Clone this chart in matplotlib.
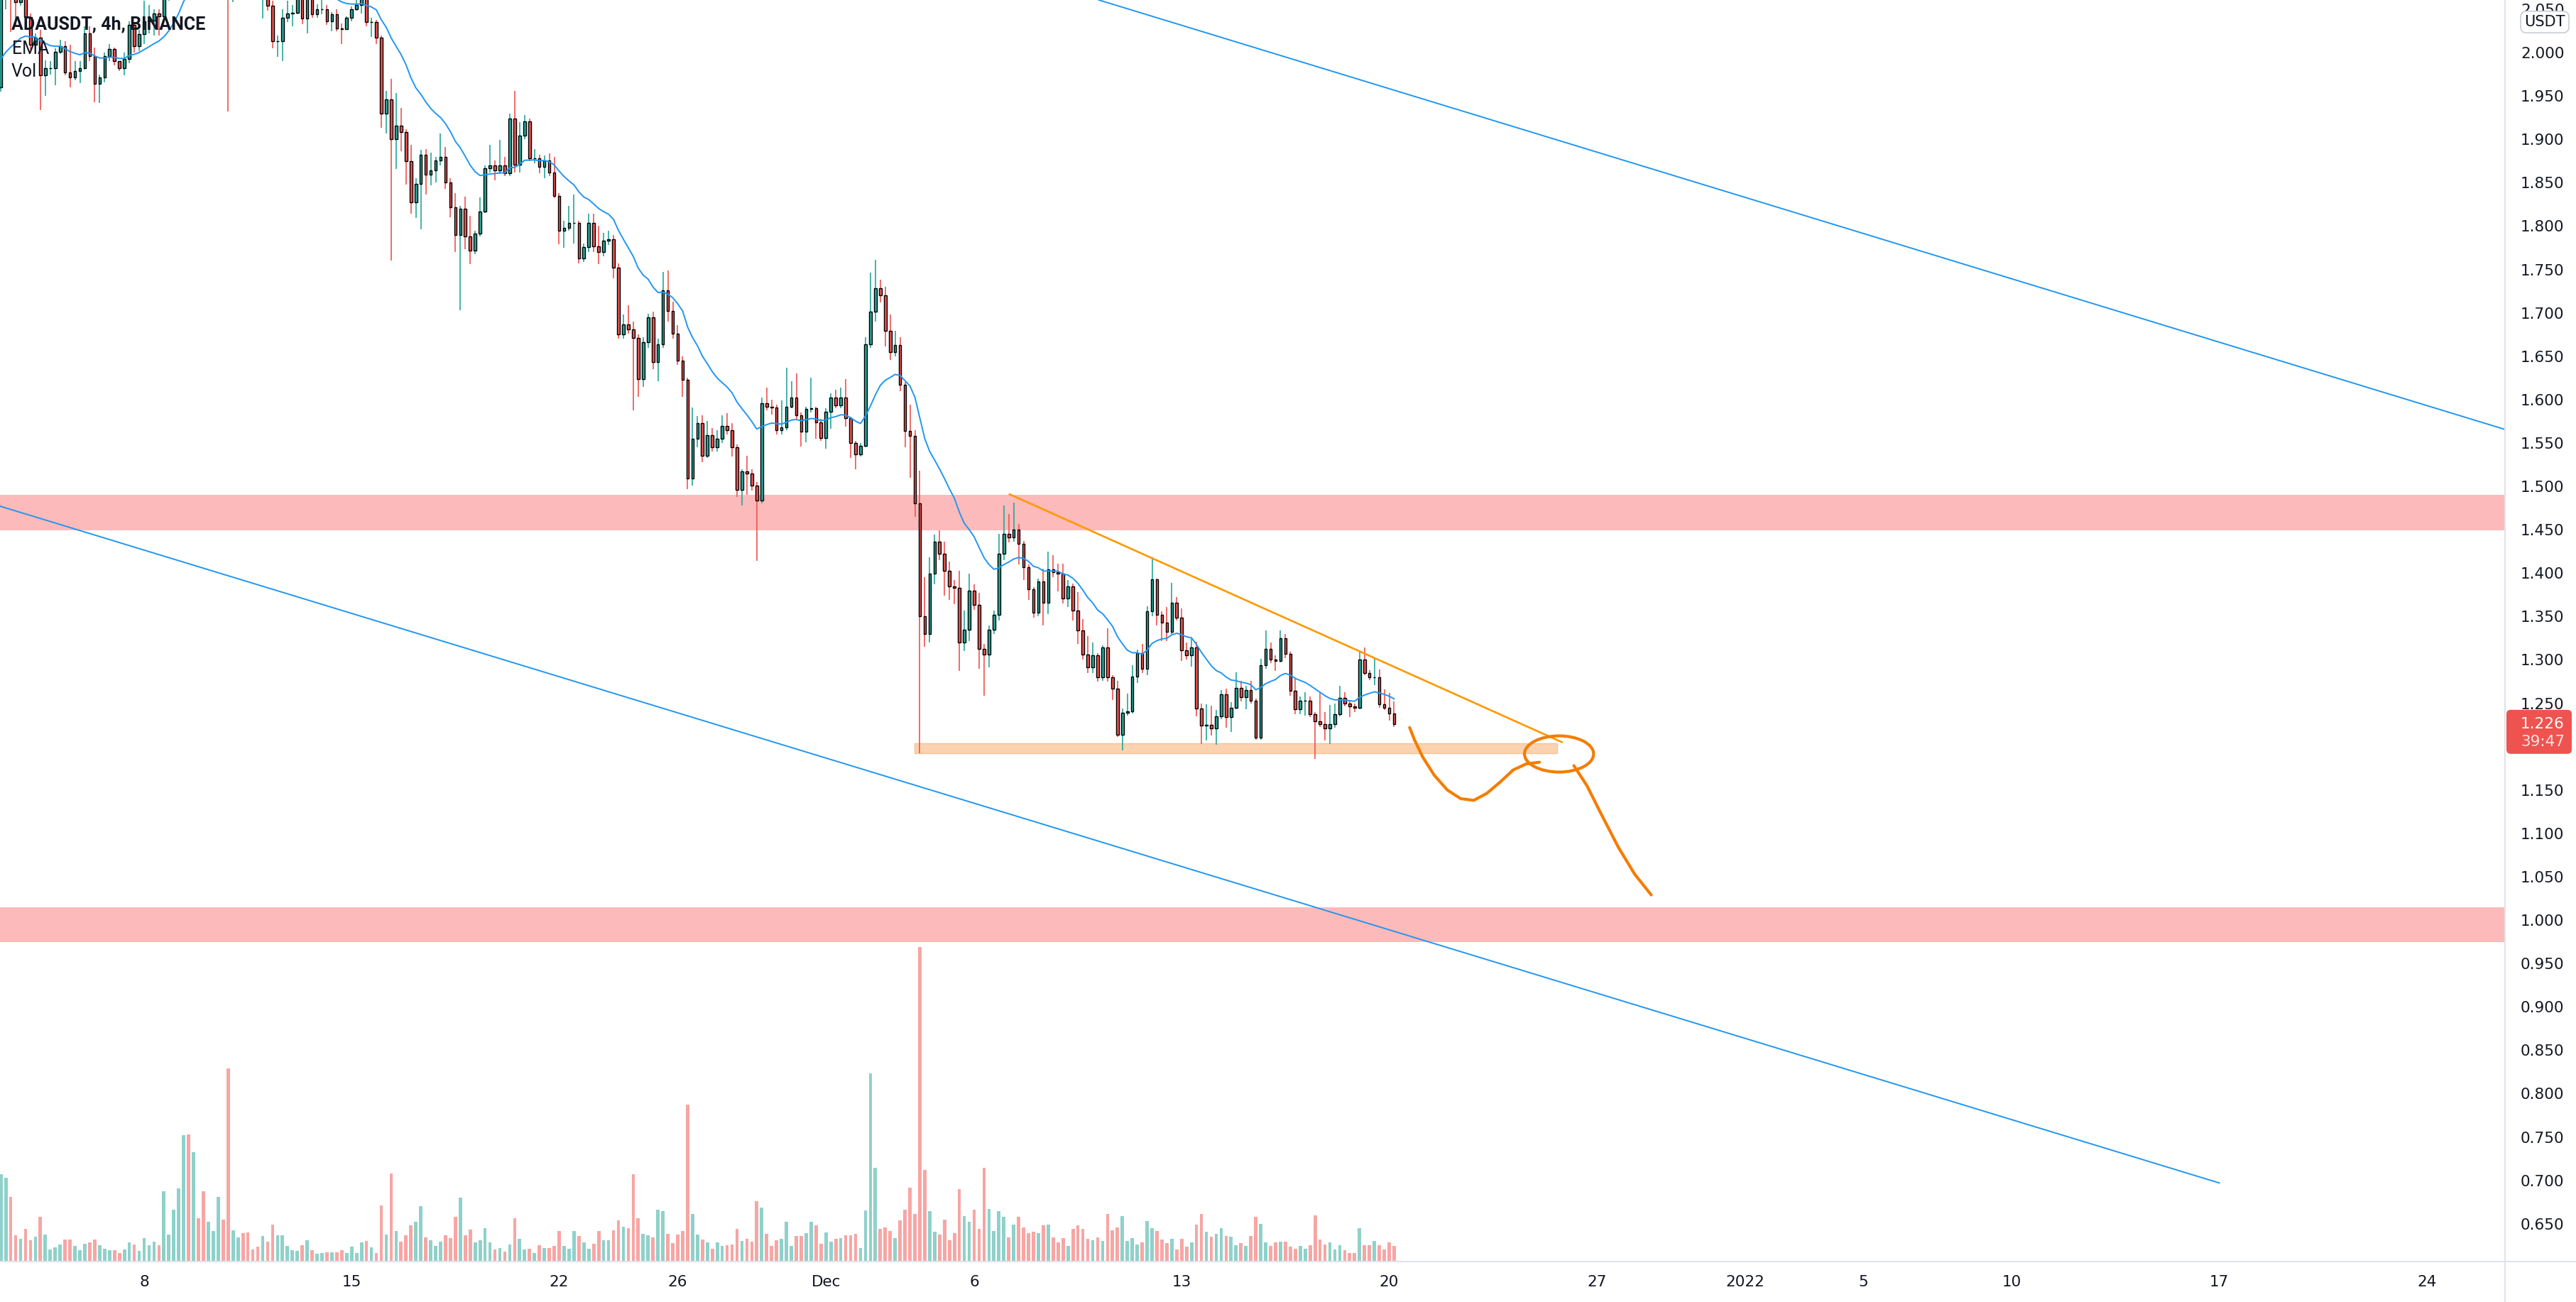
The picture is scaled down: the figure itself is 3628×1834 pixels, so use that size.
import numpy as np
import pandas as pd
import matplotlib
matplotlib.use("Agg")
import matplotlib.pyplot as plt
from matplotlib.lines import Line2D
from matplotlib.patches import FancyBboxPatch, Ellipse
from matplotlib.transforms import IdentityTransform

# ADAUSDT 4h candles, first one opens 2021-11-03 04:00, last one 2021-12-20 04:00
start = "2021-11-03 04:00"
first_open = 1.960
closes = [
    2.065, 2.075, 2.062, 2.058, 2.068, 2.041, 2.009, 2.017, 1.974, 1.982,
    1.982, 2.001, 2.007, 1.977, 1.971, 1.979, 1.982, 2.022, 1.996, 1.964,
    1.971, 1.996, 2.004, 1.990, 1.982, 1.993, 2.032, 2.007, 2.021, 2.036,
    2.037, 2.045, 2.042, 2.065, 2.090, 2.120, 2.150, 2.190, 2.160, 2.210,
    2.190, 2.170, 2.190, 2.200, 2.220, 2.200, 2.120, 2.150, 2.170, 2.150,
    2.130, 2.120, 2.090, 2.100, 2.054, 2.013, 2.013, 2.040, 2.045, 2.046,
    2.063, 2.039, 2.062, 2.044, 2.050, 2.050, 2.036, 2.044, 2.028, 2.027,
    2.040, 2.050, 2.055, 2.063, 2.035, 2.035, 2.017, 1.930, 1.946, 1.900,
    1.916, 1.908, 1.875, 1.827, 1.849, 1.882, 1.859, 1.864, 1.876, 1.880,
    1.850, 1.822, 1.790, 1.820, 1.788, 1.772, 1.791, 1.817, 1.867, 1.870,
    1.864, 1.870, 1.861, 1.924, 1.871, 1.904, 1.921, 1.878, 1.878, 1.868,
    1.876, 1.862, 1.835, 1.795, 1.798, 1.804, 1.804, 1.763, 1.776, 1.804,
    1.777, 1.770, 1.783, 1.785, 1.752, 1.675, 1.687, 1.681, 1.671, 1.624,
    1.666, 1.695, 1.643, 1.664, 1.726, 1.702, 1.676, 1.645, 1.623, 1.509,
    1.555, 1.573, 1.535, 1.559, 1.545, 1.555, 1.570, 1.565, 1.545, 1.496,
    1.517, 1.515, 1.501, 1.484, 1.596, 1.592, 1.591, 1.565, 1.568, 1.592,
    1.602, 1.582, 1.563, 1.589, 1.590, 1.574, 1.556, 1.586, 1.602, 1.593,
    1.602, 1.579, 1.550, 1.537, 1.547, 1.664, 1.701, 1.728, 1.720, 1.679,
    1.655, 1.663, 1.617, 1.564, 1.558, 1.480, 1.350, 1.330, 1.399, 1.436,
    1.422, 1.403, 1.385, 1.383, 1.320, 1.335, 1.380, 1.363, 1.313, 1.306,
    1.335, 1.352, 1.422, 1.445, 1.441, 1.450, 1.434, 1.407, 1.381, 1.354,
    1.390, 1.366, 1.404, 1.401, 1.399, 1.371, 1.385, 1.357, 1.334, 1.306,
    1.291, 1.305, 1.280, 1.314, 1.280, 1.267, 1.214, 1.239, 1.241, 1.281,
    1.308, 1.290, 1.356, 1.393, 1.352, 1.343, 1.332, 1.366, 1.349, 1.311,
    1.305, 1.314, 1.244, 1.224, 1.225, 1.221, 1.235, 1.260, 1.234, 1.245,
    1.268, 1.257, 1.265, 1.253, 1.210, 1.294, 1.313, 1.300, 1.299, 1.325,
    1.307, 1.264, 1.243, 1.253, 1.253, 1.237, 1.229, 1.226, 1.221, 1.226,
    1.237, 1.256, 1.250, 1.246, 1.245, 1.300, 1.285, 1.280, 1.280, 1.249,
    1.245, 1.238, 1.226,
]
highs = [
    2.070, 2.090, 2.085, 2.070, 2.080, 2.072, 2.045, 2.022, 2.026, 1.991,
    1.990, 2.005, 2.015, 2.013, 2.009, 1.990, 1.990, 2.030, 2.030, 2.006,
    1.975, 2.000, 2.010, 2.006, 1.990, 2.000, 2.036, 2.035, 2.026, 2.060,
    2.055, 2.050, 2.050, 2.075, 2.100, 2.130, 2.160, 2.210, 2.200, 2.230,
    2.220, 2.200, 2.200, 2.210, 2.240, 2.230, 2.210, 2.160, 2.180, 2.180,
    2.160, 2.140, 2.130, 2.120, 2.110, 2.060, 2.020, 2.050, 2.060, 2.055,
    2.068, 2.066, 2.068, 2.066, 2.056, 2.062, 2.055, 2.047, 2.050, 2.034,
    2.042, 2.053, 2.062, 2.070, 2.066, 2.040, 2.038, 2.020, 1.956, 1.970,
    1.953, 1.936, 1.912, 1.894, 1.855, 1.888, 1.889, 1.885, 1.880, 1.907,
    1.891, 1.855, 1.838, 1.823, 1.834, 1.812, 1.795, 1.833, 1.870, 1.894,
    1.876, 1.899, 1.880, 1.930, 1.956, 1.920, 1.928, 1.924, 1.889, 1.882,
    1.881, 1.884, 1.880, 1.838, 1.806, 1.823, 1.836, 1.806, 1.780, 1.814,
    1.814, 1.800, 1.792, 1.795, 1.790, 1.757, 1.698, 1.709, 1.690, 1.675,
    1.672, 1.699, 1.701, 1.670, 1.747, 1.749, 1.713, 1.686, 1.650, 1.625,
    1.591, 1.581, 1.582, 1.575, 1.567, 1.565, 1.582, 1.584, 1.573, 1.548,
    1.520, 1.535, 1.520, 1.505, 1.602, 1.614, 1.600, 1.594, 1.599, 1.637,
    1.621, 1.630, 1.585, 1.592, 1.625, 1.592, 1.578, 1.590, 1.607, 1.611,
    1.614, 1.624, 1.580, 1.552, 1.550, 1.672, 1.746, 1.761, 1.738, 1.730,
    1.698, 1.679, 1.672, 1.620, 1.594, 1.565, 1.518, 1.395, 1.418, 1.444,
    1.449, 1.436, 1.413, 1.392, 1.403, 1.357, 1.399, 1.387, 1.377, 1.318,
    1.340, 1.357, 1.445, 1.478, 1.468, 1.481, 1.457, 1.437, 1.410, 1.384,
    1.394, 1.405, 1.425, 1.421, 1.411, 1.411, 1.392, 1.388, 1.378, 1.347,
    1.327, 1.320, 1.308, 1.317, 1.336, 1.282, 1.276, 1.244, 1.261, 1.294,
    1.312, 1.318, 1.362, 1.418, 1.394, 1.356, 1.361, 1.389, 1.372, 1.359,
    1.320, 1.325, 1.321, 1.250, 1.249, 1.247, 1.242, 1.265, 1.267, 1.251,
    1.286, 1.276, 1.270, 1.276, 1.255, 1.301, 1.334, 1.320, 1.305, 1.334,
    1.330, 1.309, 1.278, 1.258, 1.263, 1.258, 1.240, 1.262, 1.240, 1.248,
    1.250, 1.270, 1.263, 1.252, 1.250, 1.309, 1.314, 1.288, 1.303, 1.289,
    1.266, 1.262, 1.252,
]
lows = [
    1.955, 2.050, 2.024, 2.031, 2.054, 2.035, 2.003, 2.000, 1.934, 1.950,
    1.975, 1.962, 1.998, 1.974, 1.960, 1.968, 1.965, 1.980, 1.990, 1.943,
    1.942, 1.966, 1.990, 1.985, 1.979, 1.974, 1.988, 2.000, 2.002, 2.010,
    2.022, 2.020, 2.020, 2.040, 2.060, 2.085, 2.110, 2.140, 2.150, 2.150,
    2.180, 2.150, 2.160, 2.180, 2.190, 2.190, 1.932, 2.058, 2.140, 2.140,
    2.120, 2.100, 2.080, 2.039, 2.048, 2.005, 1.995, 1.990, 2.035, 2.030,
    2.044, 2.033, 2.022, 2.040, 2.040, 2.044, 2.032, 2.025, 2.025, 2.010,
    2.026, 2.036, 2.048, 2.045, 2.030, 2.018, 2.010, 1.913, 1.907, 1.760,
    1.866, 1.886, 1.848, 1.814, 1.809, 1.796, 1.836, 1.847, 1.850, 1.870,
    1.843, 1.810, 1.770, 1.703, 1.773, 1.756, 1.768, 1.788, 1.815, 1.862,
    1.853, 1.860, 1.858, 1.858, 1.862, 1.862, 1.900, 1.875, 1.872, 1.861,
    1.855, 1.858, 1.832, 1.779, 1.775, 1.795, 1.780, 1.757, 1.759, 1.770,
    1.770, 1.756, 1.765, 1.778, 1.740, 1.670, 1.670, 1.676, 1.588, 1.603,
    1.615, 1.660, 1.635, 1.621, 1.660, 1.690, 1.670, 1.640, 1.603, 1.497,
    1.501, 1.545, 1.528, 1.533, 1.540, 1.540, 1.550, 1.560, 1.534, 1.488,
    1.478, 1.490, 1.495, 1.414, 1.480, 1.588, 1.583, 1.560, 1.560, 1.565,
    1.590, 1.578, 1.546, 1.551, 1.585, 1.555, 1.552, 1.543, 1.566, 1.590,
    1.590, 1.569, 1.533, 1.520, 1.534, 1.545, 1.660, 1.690, 1.712, 1.661,
    1.646, 1.650, 1.610, 1.545, 1.510, 1.465, 1.192, 1.315, 1.320, 1.387,
    1.415, 1.374, 1.369, 1.364, 1.287, 1.310, 1.322, 1.358, 1.290, 1.259,
    1.291, 1.330, 1.345, 1.415, 1.435, 1.436, 1.410, 1.392, 1.369, 1.349,
    1.350, 1.340, 1.353, 1.395, 1.379, 1.365, 1.361, 1.345, 1.318, 1.300,
    1.285, 1.285, 1.275, 1.276, 1.275, 1.254, 1.211, 1.196, 1.236, 1.238,
    1.273, 1.285, 1.282, 1.350, 1.340, 1.322, 1.322, 1.330, 1.345, 1.299,
    1.300, 1.292, 1.235, 1.203, 1.207, 1.213, 1.202, 1.232, 1.222, 1.217,
    1.243, 1.252, 1.243, 1.250, 1.208, 1.208, 1.290, 1.296, 1.287, 1.297,
    1.302, 1.259, 1.237, 1.237, 1.236, 1.234, 1.186, 1.223, 1.207, 1.203,
    1.222, 1.235, 1.246, 1.234, 1.240, 1.243, 1.282, 1.277, 1.271, 1.245,
    1.242, 1.230, 1.223,
]
volumes = [
    123, 118, 91, 37, 32, 46, 30, 35, 63, 38,
    17, 20, 24, 31, 31, 22, 16, 25, 27, 31,
    23, 18, 16, 16, 12, 17, 27, 24, 15, 33,
    23, 28, 23, 99, 38, 73, 103, 178, 179, 154,
    61, 99, 56, 43, 91, 59, 272, 44, 34, 40,
    41, 17, 21, 36, 28, 52, 37, 37, 22, 16,
    15, 23, 30, 16, 11, 12, 13, 13, 13, 16,
    12, 21, 12, 27, 29, 20, 12, 79, 38, 124,
    43, 28, 37, 51, 56, 78, 34, 30, 22, 28,
    37, 33, 63, 90, 37, 45, 27, 30, 47, 27,
    17, 19, 14, 24, 61, 32, 17, 18, 12, 23,
    19, 19, 22, 43, 22, 18, 43, 36, 27, 18,
    25, 43, 30, 30, 44, 58, 49, 47, 123, 61,
    39, 37, 34, 73, 71, 39, 26, 38, 43, 221,
    67, 38, 31, 27, 18, 27, 22, 23, 24, 46,
    29, 32, 28, 85, 76, 39, 22, 30, 32, 56,
    22, 36, 36, 40, 56, 51, 25, 41, 28, 32,
    33, 37, 37, 39, 19, 72, 265, 132, 46, 48,
    43, 33, 58, 73, 104, 67, 443, 129, 71, 42,
    38, 59, 30, 40, 102, 64, 56, 73, 46, 132,
    74, 43, 71, 63, 34, 52, 63, 48, 40, 42,
    40, 51, 52, 34, 27, 33, 22, 46, 51, 46,
    32, 30, 34, 29, 67, 44, 48, 64, 29, 33,
    24, 27, 57, 47, 43, 31, 26, 32, 17, 32,
    21, 27, 52, 67, 42, 35, 39, 47, 36, 35,
    23, 26, 22, 36, 63, 53, 27, 22, 27, 28,
    28, 21, 18, 22, 18, 23, 65, 31, 24, 27,
    17, 23, 16, 12, 12, 47, 23, 23, 29, 23,
    17, 27, 22,
]
ema_seed = 1.985
ema_len = 20
countdown = "39:47"

# drawings
res_zone = (1.449, 1.490)
sup_zone = (0.975, 1.015)
band = ("2021-12-03 23:45", "2021-12-25 16:00", 1.192, 1.2035)
trend = (("2021-12-07 04:30", 1.491), ("2021-12-25 20:00", 1.205))
chan_upper = (("2021-12-10 04:00", 2.061), ("2022-01-26 14:24", 1.566))
chan_lower = (("2021-11-02 00:00", 1.489), ("2022-01-17 00:00", 0.697))
# hand drawn path, days after 2021-11-01 and price
brush_in_days = [49.69, 49.85, 50.13, 50.52, 50.96, 51.41, 51.85, 52.29, 52.74, 53.18, 53.62, 54.07]
brush_in_px = [1.222, 1.208, 1.188, 1.167, 1.150, 1.140, 1.138, 1.146, 1.159, 1.173, 1.180, 1.182]
brush_out_days = [55.23, 55.67, 56.17, 56.73, 57.28, 57.84]
brush_out_px = [1.178, 1.155, 1.121, 1.084, 1.053, 1.029]
loop_center = (54.73, 1.1915)
loop_size = (2.33, 0.0417)

price_ticks = np.round(np.arange(0.65, 2.0501, 0.05), 3)
date_ticks = ["2021-11-08", "2021-11-15", "2021-11-22", "2021-11-26", "2021-12-01", "2021-12-06",
              "2021-12-13", "2021-12-20", "2021-12-27", "2022-01-01", "2022-01-05", "2022-01-10",
              "2022-01-17", "2022-01-24"]
date_labels = ["8", "15", "22", "26", "Dec", "6", "13", "20", "27", "2022", "5", "10", "17", "24"]

W, H = 3628, 1834
pr, pb = 3528, 1777
UP, DN = "#26a69a", "#ef5350"
TXT = "#131722"

times = pd.date_range(start, periods=len(closes), freq="4h")
opens = [first_open] + closes[:-1]
o = np.array(opens); c = np.array(closes); hi = np.array(highs); lo = np.array(lows)
up = c >= o
col = np.where(up, UP, DN)
vcol = np.where(up, "#8fd1ca", "#f7a6a4")

alpha = 2 / (ema_len + 1)
ema = []
e = ema_seed
for v in closes:
    e = e + alpha * (v - e)
    ema.append(e)

fig = plt.figure(figsize=(W / 100, H / 100), dpi=100, facecolor="white")
rect = [0, 1 - pb / H, pr / W, pb / H]
axv = fig.add_axes(rect)
ax = fig.add_axes(rect, sharex=axv)
axv.set_zorder(0)
ax.set_zorder(1)
ax.patch.set_visible(False)

# volume overlay
axv.bar(times, volumes, width=0.68 / 6, color=vcol, linewidth=0)
axv.set_ylim(0, max(volumes) / 0.2493)
axv.axis("off")

# zones and lines
for z in (res_zone, sup_zone):
    ax.axhspan(z[0], z[1], color="#fdbaba", lw=0, zorder=1)
b0, b1 = pd.Timestamp(band[0]), pd.Timestamp(band[1])
ax.fill_between([b0, b1], band[2], band[3], facecolor="#fcd3b0", edgecolor="#f8c296", lw=1, zorder=1.5)
ax.axline((matplotlib.dates.date2num(pd.Timestamp(chan_upper[0][0])), chan_upper[0][1]),
          (matplotlib.dates.date2num(pd.Timestamp(chan_upper[1][0])), chan_upper[1][1]),
          color="#2196f3", lw=1.4, zorder=2)
ax.plot([pd.Timestamp(p[0]) for p in chan_lower], [p[1] for p in chan_lower], color="#2196f3", lw=1.4, zorder=2)

# candles
ax.vlines(times, lo, hi, colors=col, linewidth=1.2, zorder=3)
ax.bar(times, np.abs(c - o), bottom=np.minimum(o, c), width=0.52 / 6, color=col,
       edgecolor="black", linewidth=1.0, zorder=4)
ax.plot(times, ema, color="#2196f3", lw=1.4, zorder=5)

ax.plot([pd.Timestamp(p[0]) for p in trend], [p[1] for p in trend], color="#ff9800", lw=1.9, zorder=6,
        solid_capstyle="round")
t0 = pd.Timestamp("2021-11-01")
bi = t0 + pd.to_timedelta(brush_in_days, unit="D")
bo = t0 + pd.to_timedelta(brush_out_days, unit="D")
ax.plot(bi, brush_in_px, color="#f57c00", lw=3.0, zorder=7, solid_capstyle="round", solid_joinstyle="round")
ax.plot(bo, brush_out_px, color="#f57c00", lw=3.0, zorder=7, solid_capstyle="round", solid_joinstyle="round")
lc = matplotlib.dates.date2num(t0 + pd.Timedelta(days=loop_center[0]))
ax.add_patch(Ellipse((lc, loop_center[1]), loop_size[0], loop_size[1], fill=False,
                     edgecolor="#f57c00", lw=3.0, zorder=7))

ax.set_xlim(t0 + pd.Timedelta(days=2.138), t0 + pd.Timedelta(days=86.64))
ax.set_ylim(0.6064, 2.0606)
for s in ax.spines.values():
    s.set_visible(False)

# 1.200 sits under the last-price marker, as in the screen
ax.yaxis.tick_right()
ax.set_yticks(price_ticks)
ax.set_yticklabels(["" if abs(v - 1.2) < 1e-6 else f"{v:.3f}" for v in price_ticks])
ax.tick_params(axis="y", length=0, pad=15.8, labelsize=15.5, labelcolor=TXT)
ax.set_xticks(pd.to_datetime(date_ticks))
ax.set_xticklabels(date_labels)
ax.tick_params(axis="x", length=0, pad=14, labelsize=15.5, labelcolor=TXT)

# legend texts
fig.text(16 / W, 1 - 41 / H, "ADAUSDT, 4h, BINANCE", fontsize=18, family=["Roboto", "DejaVu Sans"],
         fontweight="semibold", color=TXT, va="baseline", zorder=10)
fig.text(17 / W, 1 - 76 / H, "EMA", fontsize=18, family=["Roboto", "DejaVu Sans"], color=TXT, va="baseline", zorder=10)
fig.text(16 / W, 1 - 108 / H, "Vol", fontsize=18, family=["Roboto", "DejaVu Sans"], color=TXT, va="baseline", zorder=10)

# separators
fig.add_artist(Line2D([pr / W, pr / W], [0, 1], color="#e0e3eb", lw=1.5, transform=fig.transFigure))
fig.add_artist(Line2D([0, 1], [1 - pb / H, 1 - pb / H], color="#e0e3eb", lw=1.5, transform=fig.transFigure))

# currency box
fig.text(3584 / W, 1 - 31 / H, "USDT", fontsize=15, color=TXT, ha="center", va="center", zorder=12,
         bbox=dict(boxstyle="round,pad=0.25,rounding_size=0.4", fc="white", ec="#c9ccd4", lw=1.2))

# last price box
fig.canvas.draw()
ypix = ax.transData.transform((0, closes[-1]))[1]
fig.add_artist(FancyBboxPatch((pr + 2, ypix - 42), 92, 62, boxstyle="round,pad=0,rounding_size=6",
                              fc=DN, ec="none", transform=IdentityTransform(), zorder=11))
fig.text((pr + 22) / W, ypix / H, f"{closes[-1]:.3f}", fontsize=15.5, color="white", va="center", zorder=12)
fig.text((pr + 22) / W, (ypix - 25) / H, countdown, fontsize=15.5, color="#fde2e2", va="center", zorder=12)

fig.savefig("out.png", dpi=100, facecolor="white")
